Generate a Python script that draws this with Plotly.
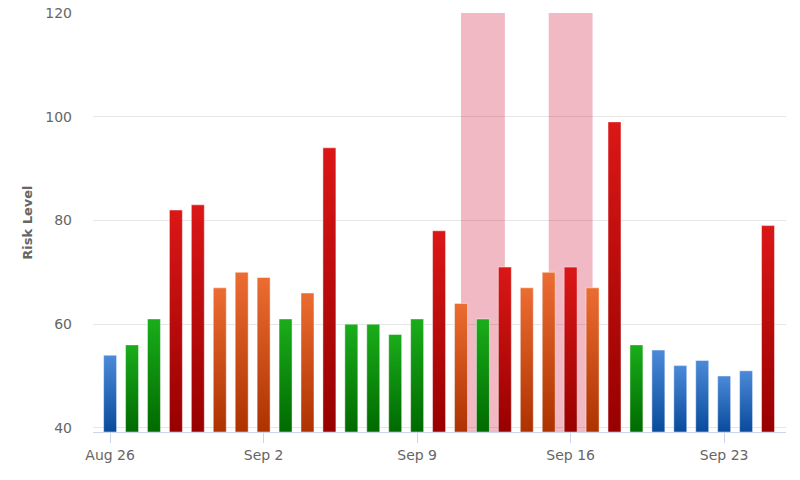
import pandas as pd
import plotly.graph_objects as go

# ---- data ----
start_date = "2013-08-26"
risk_values = [54, 56, 61, 82, 83, 67, 70, 69, 61, 66, 94, 60, 60, 58, 61, 78,
               64, 61, 71, 67, 70, 71, 67, 99, 56, 55, 52, 53, 50, 51, 79]
tick_dates = ["2013-08-26", "2013-09-02", "2013-09-09", "2013-09-16", "2013-09-23"]
tick_labels = ["Aug 26", "Sep 2", "Sep 9", "Sep 16", "Sep 23"]
band_starts = ["2013-09-11", "2013-09-15"]
band_ends = ["2013-09-13", "2013-09-17"]

dates = pd.date_range(start_date, periods=len(risk_values), freq="D")

# colour levels: (upper threshold, top colour, bottom colour)
levels = [
    (55, "#4a8ad8", "#0a4a9c"),   # low  - blue
    (62, "#1aad1a", "#006a00"),   # normal - green
    (70, "#ec6d32", "#ad3200"),   # elevated - orange
    (1000, "#db1717", "#980000"), # high - red
]

Y_MIN, Y_MAX = 39.2, 120
half_w = pd.Timedelta(hours=7.1)

fig = go.Figure()
for d, v in zip(dates, risk_values):
    for thr, top, bot in levels:
        if v <= thr:
            break
    x0, x1 = d - half_w, d + half_w
    fig.add_trace(go.Scatter(
        x=[x0, x0, x1, x1, x0],
        y=[Y_MIN, v, v, Y_MIN, Y_MIN],
        mode="lines",
        fill="toself",
        fillgradient=dict(type="vertical", colorscale=[[0, bot], [1, top]]),
        line=dict(color="rgba(255,255,255,0.45)", width=1),
        hoverinfo="text",
        text=f"{d:%b %d}: {v}",
        showlegend=False,
    ))

for s, e in zip(band_starts, band_ends):
    fig.add_shape(type="rect", xref="x", yref="y", x0=s, x1=e, y0=Y_MIN, y1=Y_MAX,
                  fillcolor="rgba(205,22,55,0.3)", line=dict(width=0), layer="between")

x_lo = dates[0] - pd.Timedelta(hours=0.78 * 24)
x_hi = dates[0] + pd.Timedelta(hours=30.82 * 24)

fig.update_layout(
    width=800, height=480,
    margin=dict(l=93, r=14, t=13, b=48, autoexpand=False),
    paper_bgcolor="white", plot_bgcolor="rgba(0,0,0,0)",
    font=dict(family="DejaVu Sans", size=14, color="#666666"),
    xaxis=dict(
        type="date", range=[x_lo, x_hi], automargin=False,
        tickvals=tick_dates, ticktext=tick_labels,
        showgrid=False, zeroline=False,
        showline=True, linecolor="#ccd6eb", linewidth=1,
        ticks="outside", ticklen=10, tickcolor="#ccd6eb", tickwidth=1,
        tickfont=dict(size=14, color="#666666"),
    ),
    yaxis=dict(
        range=[Y_MIN, Y_MAX], automargin=False,
        tickvals=[40, 60, 80, 100, 120],
        showgrid=True, gridcolor="#e6e6e6", gridwidth=1,
        zeroline=False, showline=False,
        ticklabelstandoff=20,
        tickfont=dict(size=14, color="#666666"),
    ),
    annotations=[dict(
        text="<b>Risk Level</b>", textangle=-90,
        xref="paper", yref="paper", x=-0.095, y=0.5,
        xanchor="center", yanchor="middle", showarrow=False,
        font=dict(size=13, color="#666666"),
    )],
)

fig.write_html("out.html", config={"displayModeBar": False},
               post_script="document.body.style.margin='0';")
